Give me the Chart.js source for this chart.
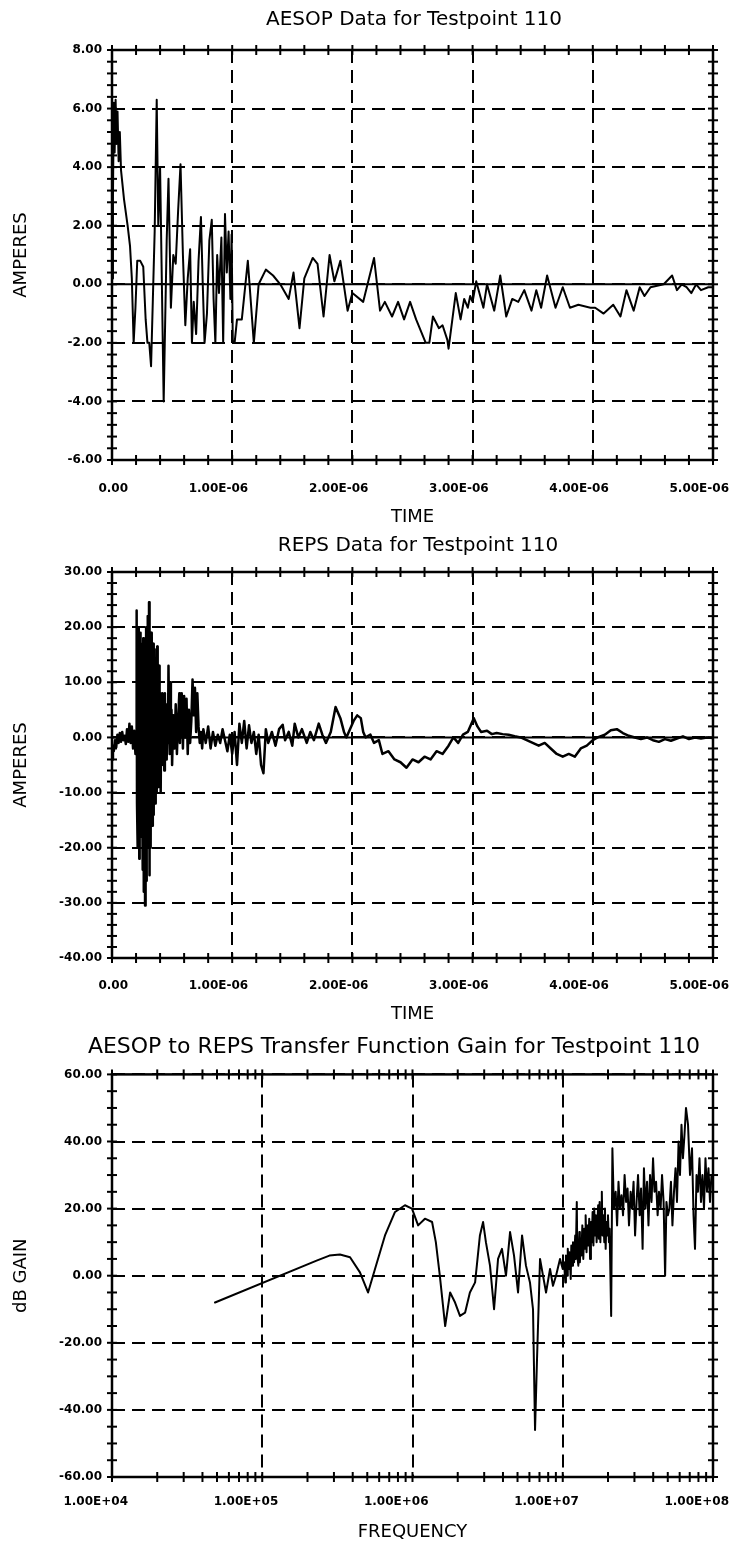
<!DOCTYPE html>
<html><head><meta charset="utf-8">
<script src="https://cdn.jsdelivr.net/npm/chart.js@4.4.1/dist/chart.umd.min.js"></script>
<style>
html,body{margin:0;padding:0;background:#fff;width:732px;height:1550px;overflow:hidden}
canvas{position:absolute;left:0}
</style></head><body>
<canvas id="c1" width="732" height="530" style="top:0px"></canvas>
<canvas id="c2" width="732" height="500" style="top:530px"></canvas>
<canvas id="c3" width="732" height="520" style="top:1030px"></canvas>
<script>
// ---------- DATA ----------
const timeTicksUs = [0, 1, 2, 3, 4, 5];
const aesopYTicks = [-6, -4, -2, 0, 2, 4, 6, 8];
const repsYTicks = [-40, -30, -20, -10, 0, 10, 20, 30];
const gainYTicks = [-60, -40, -20, 0, 20, 40, 60];
const freqTicks = [1e4, 1e5, 1e6, 1e7, 1e8];

const aesopTimeUs = [0.000,0.008,0.015,0.022,0.030,0.038,0.046,0.055,0.065,0.075,0.10,0.13,0.15,0.165,0.18,0.195,0.21,0.235,0.26,0.28,0.295,0.31,0.325,0.34,0.355,0.372,0.385,0.40,0.43,0.455,0.47,0.49,0.51,0.53,0.55,0.57,0.59,0.61,0.63,0.65,0.665,0.68,0.70,0.72,0.74,0.755,0.77,0.79,0.81,0.83,0.845,0.86,0.875,0.89,0.91,0.925,0.94,0.955,0.97,0.985,0.995,1.005,1.02,1.04,1.08,1.13,1.18,1.22,1.28,1.34,1.40,1.47,1.51,1.56,1.60,1.67,1.71,1.76,1.81,1.85,1.90,1.96,2.00,2.09,2.18,2.23,2.27,2.33,2.38,2.43,2.48,2.53,2.61,2.64,2.67,2.72,2.75,2.79,2.80,2.86,2.90,2.93,2.96,2.98,3.00,3.03,3.09,3.12,3.18,3.23,3.28,3.33,3.38,3.43,3.49,3.53,3.57,3.62,3.69,3.75,3.81,3.88,3.98,4.02,4.09,4.17,4.23,4.28,4.34,4.39,4.43,4.48,4.59,4.66,4.70,4.74,4.78,4.82,4.86,4.90,4.96,5.00];
const aesopAmps = [0.2,3.0,6.2,4.5,6.3,4.8,5.9,4.2,5.2,3.9,2.9,2.0,1.3,0.2,-2.0,-0.8,0.8,0.8,0.6,-1.2,-2.0,-2.0,-2.8,-0.5,1.8,6.3,2.0,4.0,-4.0,1.5,3.6,-0.8,1.0,0.7,2.5,4.1,1.0,-1.4,0.2,1.2,-2.0,-0.6,-1.7,0.8,2.3,0.0,-2.0,-1.0,1.5,2.2,-0.5,-2.0,1.0,-0.3,1.6,-2.0,2.4,0.4,1.8,-0.5,1.7,-2.0,-2.0,-1.2,-1.2,0.8,-2.0,0.0,0.5,0.3,0.0,-0.5,0.4,-1.5,0.2,0.9,0.7,-1.1,1.0,0.1,0.8,-0.9,-0.3,-0.6,0.9,-0.9,-0.6,-1.1,-0.6,-1.2,-0.6,-1.2,-2.0,-2.0,-1.1,-1.5,-1.4,-1.9,-2.2,-0.3,-1.2,-0.5,-0.8,-0.4,-0.6,0.1,-0.8,0.0,-0.9,0.3,-1.1,-0.5,-0.6,-0.2,-0.9,-0.2,-0.8,0.3,-0.8,-0.1,-0.8,-0.7,-0.8,-0.8,-1.0,-0.7,-1.1,-0.2,-0.9,-0.1,-0.4,-0.1,0.0,0.3,-0.2,0.0,-0.1,-0.3,0.0,-0.2,-0.1,-0.1];

const repsTimeUs = [0.000,0.008,0.015,0.025,0.035,0.045,0.055,0.065,0.075,0.085,0.095,0.105,0.115,0.125,0.135,0.145,0.155,0.165,0.175,0.185,0.195,0.200,
0.205,0.208,0.212,0.215,0.218,0.221,0.224,0.227,0.230,0.233,0.236,0.239,0.242,0.245,0.248,0.251,0.254,0.257,0.260,0.263,0.266,0.269,0.272,0.275,0.278,0.281,0.284,0.287,0.290,0.293,0.296,0.299,0.302,0.305,0.308,0.311,0.314,0.317,0.320,0.323,0.326,0.329,0.332,0.335,0.338,0.341,0.344,0.347,0.350,0.353,0.356,0.359,0.362,0.365,0.368,0.372,0.376,0.380,0.384,0.388,0.392,0.396,0.400,0.405,0.410,0.415,0.420,0.425,0.430,0.435,0.440,0.445,0.450,0.455,0.460,0.465,0.470,0.475,0.480,0.485,0.490,0.495,0.500,0.510,0.520,0.530,0.540,0.550,0.560,0.565,0.570,0.575,0.580,0.590,0.600,0.610,0.620,0.630,0.640,0.650,0.660,0.670,0.680,0.690,0.700,0.710,0.720,0.730,0.740,
0.75,0.76,0.78,0.80,0.82,0.84,0.86,0.88,0.90,0.92,0.94,0.96,0.98,1.00,1.02,1.04,1.06,1.08,1.10,1.12,1.14,1.16,1.18,1.20,1.22,1.24,1.26,1.28,1.30,1.33,1.36,1.39,1.42,1.44,1.47,1.50,1.52,1.55,1.58,1.62,1.65,1.68,1.72,1.75,1.78,1.82,1.86,1.90,1.93,1.95,1.98,2.01,2.04,2.07,2.09,2.11,2.15,2.18,2.22,2.25,2.30,2.35,2.40,2.45,2.50,2.55,2.60,2.65,2.70,2.75,2.80,2.84,2.88,2.92,2.96,3.01,3.04,3.07,3.12,3.16,3.20,3.25,3.30,3.35,3.40,3.45,3.50,3.55,3.60,3.65,3.70,3.75,3.80,3.85,3.90,3.95,4.00,4.04,4.10,4.15,4.20,4.25,4.30,4.35,4.40,4.45,4.50,4.55,4.60,4.65,4.70,4.75,4.80,4.85,4.90,4.95,5.00];
const repsAmps = [-4.0,-1.5,-2.5,-0.5,-1.8,0.5,-1.0,0.8,-0.8,1.0,-0.5,0.3,-1.2,1.5,-0.8,2.5,-1.0,2.0,-2.0,1.2,-3.0,0.5,
23.0,-12,10,-20,14,-8,20,-22,12,-6,19,-15,8,-18,17,-10,6,-24,18,-28,15,-18,10,-30.5,14,-22,20,-26,12,-15,22,-20,18,-12,24.5,-25,16,-18,8,-20,19,-10,15,-16,12,-8,17,-14,10,-6,16,-12,14,-8,11,-10,16.5,-6,9,-9,13,-4,8,-10,6,-5,8,-3,5,-6,8,-2,3,-4,6,-1,13,2,-3,10,-2,5,-5,4,-2,6,-3,3,8,-1,7,0,8,-2,7.5,0,7,-3,5,-1,3,10.5,4,9,1,8,2,-1,1,
-2,1.5,-1,2,-2,1,-1.5,0.5,-1,1.5,-0.5,-2.5,0.5,-3,1,-5,2.5,-1,3,-2,2.2,-1,1,-3,0.5,-5,-6.5,1.5,-1,1,-1.5,1.5,2.3,-0.5,1,-1.5,2.5,0,1.5,-1,1,-0.5,2.5,0.5,-1,1,5.5,3.5,1,0,1.5,3,4.0,3.5,1,0,0.5,-1,-0.5,-3,-2.5,-4,-4.5,-5.5,-4,-4.5,-3.5,-4,-2.5,-3,-1.5,0,-1,0.5,1,3.5,2,1.0,1.2,0.6,0.8,0.6,0.5,0.2,0,-0.5,-1,-1.5,-1,-2,-3,-3.5,-3,-3.5,-2,-1.5,-0.5,0,0.5,1.3,1.5,0.8,0.3,0,-0.3,0,-0.5,-0.8,-0.3,-0.6,-0.2,0.2,-0.3,0,-0.2,0,-0.1];

const gainFreqHz = [4.85e4,2.3e5,2.8e5,3.29e5,3.84e5,4.47e5,5.06e5,5.63e5,6.56e5,7.65e5,8.91e5,9.92e5,1.09e6,1.21e6,1.35e6,1.43e6,1.52e6,1.65e6,1.78e6,1.92e6,2.07e6,2.24e6,2.41e6,2.61e6,2.81e6,2.95e6,3.08e6,3.28e6,3.49e6,3.71e6,3.94e6,4.19e6,4.46e6,4.74e6,5.04e6,5.36e6,5.69e6,6.05e6,6.34e6,6.54e6,6.74e6,7.06e6,7.39e6,7.74e6,8.23e6,8.61e6,9.02e6,9.59e6,1.00e7,
1.02e7,1.04e7,1.05e7,1.07e7,1.08e7,1.10e7,1.11e7,1.13e7,1.14e7,1.16e7,1.17e7,1.19e7,1.21e7,1.22e7,1.24e7,1.25e7,1.27e7,1.29e7,1.30e7,1.32e7,1.33e7,1.35e7,1.37e7,1.39e7,1.41e7,1.42e7,1.44e7,1.46e7,1.48e7,1.50e7,1.52e7,1.54e7,1.56e7,1.58e7,1.60e7,1.62e7,1.64e7,1.66e7,1.68e7,1.70e7,1.72e7,1.74e7,1.76e7,1.78e7,1.80e7,1.82e7,1.84e7,1.86e7,1.89e7,1.91e7,1.93e7,1.95e7,1.98e7,2.00e7,2.03e7,2.05e7,
2.10e7,2.14e7,2.19e7,2.25e7,2.30e7,2.35e7,2.40e7,2.46e7,2.52e7,2.58e7,2.64e7,2.70e7,2.76e7,2.83e7,2.89e7,2.96e7,3.03e7,3.10e7,3.17e7,3.25e7,3.32e7,3.40e7,3.47e7,3.55e7,3.64e7,3.72e7,3.81e7,3.90e7,3.99e7,4.08e7,4.18e7,4.28e7,4.37e7,4.48e7,4.58e7,4.69e7,4.80e7,4.90e7,5.01e7,5.13e7,5.25e7,5.37e7,5.50e7,5.63e7,5.76e7,5.90e7,6.03e7,6.17e7,6.31e7,6.46e7,6.61e7,6.82e7,7.03e7,7.25e7,7.42e7,7.59e7,7.77e7,7.94e7,8.13e7,8.32e7,8.51e7,8.71e7,8.91e7,9.12e7,9.33e7,9.55e7,9.77e7,1.00e8];
const gainDb = [-8,4.5,6.0,6.3,5.5,1,-5,2,12,19,21,20,15,17,16,10,0,-15,-5,-8,-12,-11,-5,-2,12,16,10,3,-10,5,8,0,13,6,-5,12,3,-2,-10,-46,-25,5,0,-5,2,-3,0,5,2,
4,-2,6,0,8,2,7,-1,9,3,10,4,12,5,22,6,3,13,4,11,6,15,5,14,8,18,7,15,9,17,5,16,10,19,9,20,12,18,10,15,21,11,22,10,20,25,12,18,10,20,8,16,12,18,10,14,
-12,38,20,25,15,28,20,24,18,30,22,26,15,25,20,28,12,22,30,18,26,8,32,20,28,15,30,22,35,25,28,18,25,20,30,22,0,22,18,20,28,15,25,32,22,40,30,45,35,42,50,45,30,38,18,8,30,25,35,22,30,20,35,25,32,22,30,28];

// ---------- HELPERS ----------
const FONT = "'DejaVu Sans', 'Liberation Sans', sans-serif";
function sci(v) {
  if (v === 0) return '0.00';
  let e = Math.floor(Math.log10(Math.abs(v)) + 1e-9);
  let m = v / Math.pow(10, e);
  return m.toFixed(2) + 'E' + (e < 0 ? '-' : '+') + String(Math.abs(e)).padStart(2, '0');
}
function pts(xs, ys) { return xs.map((x, i) => ({x: x, y: ys[i]})); }

const plotter = {
  id: 'plotter',
  afterLayout(chart, args, o) {
    const tb = chart.titleBlock;
    if (tb && o.titleCenter) { tb.left = o.titleCenter - o.titleHalf; tb.right = o.titleCenter + o.titleHalf; }
  },
  afterDatasetsDraw(chart, args, o) {
    const {ctx, chartArea: a, scales: {x, y}} = chart;
    ctx.save();
    ctx.strokeStyle = '#000';
    ctx.lineCap = 'butt';
    const seg = (x1, y1, x2, y2) => { ctx.beginPath(); ctx.moveTo(x1, y1); ctx.lineTo(x2, y2); ctx.stroke(); };
    if (o.zeroLine) { ctx.lineWidth = 2; const py = y.getPixelForValue(0); seg(a.left, py, a.right, py); }
    ctx.lineWidth = 2.5;
    ctx.strokeRect(a.left, a.top, a.right - a.left, a.bottom - a.top);
    ctx.lineWidth = 2;
    const L = 5;
    o.xMinor.forEach(v => { const p = x.getPixelForValue(v); seg(p, a.top - L, p, a.top + L); seg(p, a.bottom - L, p, a.bottom + L); });
    o.yMinor.forEach(v => { const p = y.getPixelForValue(v); seg(a.left - L, p, a.left + L, p); seg(a.right - L, p, a.right + L, p); });
    ctx.restore();
  }
};

function linMinor(min, max, step) { const r = []; const n = Math.round((max - min) / step); for (let i = 0; i <= n; i++) r.push(min + i * step); return r; }
function logMinor(dmin, dmax) { const r = []; for (let d = dmin; d < dmax; d++) for (let m = 1; m < 10; m++) r.push(m * Math.pow(10, d)); r.push(Math.pow(10, dmax)); return r; }

function build(id, c) {
  const xAxis = {
    type: c.xType, min: c.xMin, max: c.xMax, position: 'bottom',
    afterBuildTicks: s => { s.ticks = c.xTicks.map(v => ({value: v})); },
    afterFit: s => { s.height = c.xH; s.paddingLeft = 0; s.paddingRight = 0; },
    grid: {color: '#000', lineWidth: 2, drawTicks: false},
    border: {display: false, dash: [13, 7]},
    ticks: {color: '#000', font: {family: FONT, size: 12, weight: 'bold'}, padding: c.xLabPad, align: 'end', labelOffset: 16, maxRotation: 0, autoSkip: false, callback: c.xFmt},
    title: {display: true, text: c.xTitle, color: '#000', font: {family: FONT, size: 18, weight: 'normal', lineHeight: 1.2}, padding: {top: 0, bottom: c.xTitlePad}}
  };
  const yAxis = {
    type: 'linear', min: c.yTicks[0], max: c.yTicks[c.yTicks.length - 1], position: 'left',
    afterBuildTicks: s => { s.ticks = c.yTicks.map(v => ({value: v})); },
    afterFit: s => { s.width = 112; s.paddingTop = 0; s.paddingBottom = 0; },
    grid: {color: '#000', lineWidth: 2, drawTicks: false},
    border: {display: false, dash: [13, 7]},
    ticks: {color: '#000', font: {family: FONT, size: 12, weight: 'bold'}, padding: 10, autoSkip: false, callback: v => v.toFixed(2)},
    title: {display: true, text: c.yTitle, color: '#000', font: {family: FONT, size: 18, weight: 'normal', lineHeight: 1.2}, padding: {top: 11, bottom: 0}}
  };
  return new Chart(document.getElementById(id), {
    type: 'line',
    data: {datasets: [{data: c.data, borderColor: '#000', borderWidth: c.lw, pointRadius: 0, fill: false, tension: 0, borderJoinStyle: 'round', borderCapStyle: 'round'}]},
    options: {
      animation: false, responsive: false, devicePixelRatio: 1,
      layout: {padding: {left: 0, right: 19, top: 0, bottom: 0}},
      plugins: {
        legend: {display: false}, tooltip: {enabled: false},
        title: {display: true, text: c.title, color: '#000', font: {family: FONT, size: c.tSize, weight: 'normal', lineHeight: 1.2}, padding: {top: c.tTop, bottom: c.tBot}},
        plotter: {zeroLine: c.zeroLine, xMinor: c.xMinor, yMinor: c.yMinor, titleCenter: c.tCenter, titleHalf: c.tHalf}
      },
      scales: {x: xAxis, y: yAxis}
    },
    plugins: [plotter]
  });
}

const timeFmt = v => sci(v * 1e-6);

build('c1', {
  title: 'AESOP Data for Testpoint 110', tSize: 20, tTop: 8, tBot: 18, tCenter: 414, tHalf: 330,
  xType: 'linear', xMin: 0, xMax: 5, xTicks: timeTicksUs, xFmt: timeFmt, xTitle: 'TIME', xH: 70, xLabPad: 22, xTitlePad: 2,
  yTicks: aesopYTicks, yTitle: 'AMPERES', zeroLine: true,
  xMinor: linMinor(0, 5, 0.2), yMinor: linMinor(-6, 8, 0.4),
  data: pts(aesopTimeUs, aesopAmps), lw: 2
});
build('c2', {
  title: 'REPS Data for Testpoint 110', tSize: 20, tTop: 4, tBot: 14, tCenter: 418, tHalf: 330,
  xType: 'linear', xMin: 0, xMax: 5, xTicks: timeTicksUs, xFmt: timeFmt, xTitle: 'TIME', xH: 72, xLabPad: 21, xTitlePad: 5,
  yTicks: repsYTicks, yTitle: 'AMPERES', zeroLine: true,
  xMinor: linMinor(0, 5, 0.2), yMinor: linMinor(-40, 30, 2),
  data: pts(repsTimeUs, repsAmps), lw: 2.5
});
build('c3', {
  title: 'AESOP to REPS Transfer Function Gain for Testpoint 110', tSize: 22, tTop: 4, tBot: 14, tCenter: 394, tHalf: 345,
  xType: 'logarithmic', xMin: 1e4, xMax: 1e8, xTicks: freqTicks, xFmt: v => sci(v), xTitle: 'FREQUENCY', xH: 73, xLabPad: 18, xTitlePad: 7,
  yTicks: gainYTicks, yTitle: 'dB GAIN', zeroLine: false,
  xMinor: logMinor(4, 8), yMinor: linMinor(-60, 60, 5),
  data: pts(gainFreqHz, gainDb), lw: 2
});
</script>
</body></html>
